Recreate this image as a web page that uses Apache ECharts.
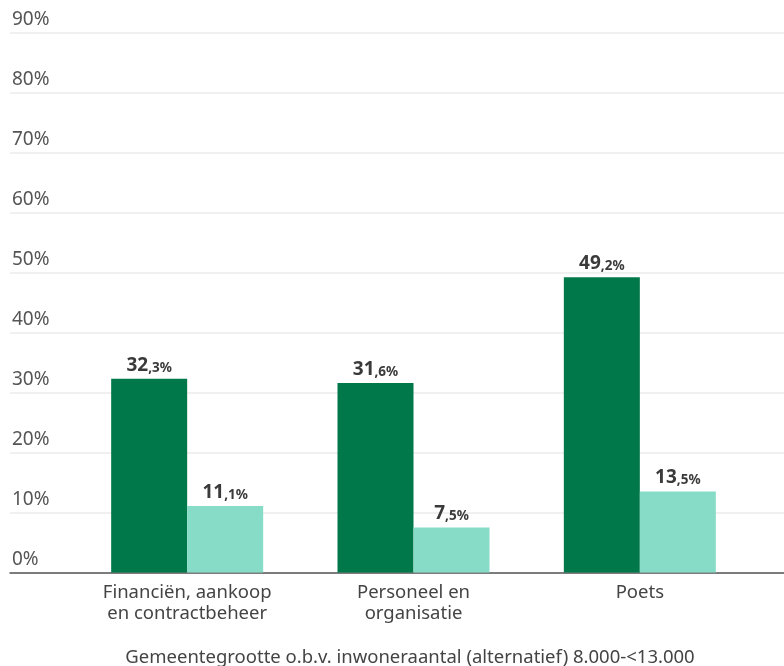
<!DOCTYPE html>
<html><head><meta charset="utf-8">
<script src="https://cdn.jsdelivr.net/npm/echarts@6/dist/echarts.min.js"></script>
<style>html,body{margin:0;padding:0;background:#fff}#c{width:784px;height:666px}</style>
</head><body><div id="c"></div>
<script>
var categories = ['Financiën, aankoop\nen contractbeheer', 'Personeel en\norganisatie', 'Poets'];
var seriesA = [32.3, 31.6, 49.2];
var seriesB = [11.1, 7.5, 13.5];
var yTicks = [0, 10, 20, 30, 40, 50, 60, 70, 80, 90];
var axisTitle = 'Gemeentegrootte o.b.v. inwoneraantal (alternatief) 8.000-<13.000';

var FONT = '"Noto Sans", "Open Sans", sans-serif';
function lbl(p) {
  var s = p.value.toFixed(1).split('.');
  return '{a|' + s[0] + '}{b|,' + s[1] + '%}';
}
var labelCfg = {
  show: true, position: 'top', distance: 4, formatter: lbl,
  rich: {
    a: { fontFamily: FONT, fontSize: 19, fontWeight: 'bold', color: '#3a3a3a', verticalAlign: 'bottom', lineHeight: 21 },
    b: { fontFamily: FONT, fontSize: 13.5, fontWeight: 'bold', color: '#3a3a3a', verticalAlign: 'bottom', lineHeight: 18 }
  }
};
var chart = echarts.init(document.getElementById('c'));
chart.setOption({
  animation: false,
  title: { text: axisTitle, left: 405, top: 643, textAlign: 'center',
    textStyle: { fontFamily: FONT, fontSize: 18.5, fontWeight: 'normal', color: '#444' } },
  grid: [
    { left: 10, right: 0, top: 32.5, bottom: 93.5 },
    { left: 74, right: 31, top: 32.5, bottom: 93.5 }
  ],
  xAxis: [
    { gridIndex: 0, type: 'category', data: ['x'], axisLine: { lineStyle: { color: '#555', width: 1.5 } },
      axisTick: { show: false }, axisLabel: { show: false } },
    { gridIndex: 1, type: 'category', data: categories, axisLine: { show: false }, axisTick: { show: false },
      axisLabel: { margin: 10, fontFamily: FONT, fontSize: 18.5, color: '#444', lineHeight: 21 } }
  ],
  yAxis: [
    { gridIndex: 0, type: 'value', min: yTicks[0], max: yTicks[yTicks.length - 1], interval: 10,
      axisLine: { show: false }, axisTick: { show: false },
      splitLine: { lineStyle: { color: '#ebebeb', width: 1.5 } },
      axisLabel: { inside: true, align: 'left', verticalAlign: 'bottom', margin: 2, padding: [0, 0, 3, 0],
        fontFamily: FONT, fontSize: 19, color: '#555', formatter: '{value}%' } },
    { gridIndex: 1, type: 'value', min: yTicks[0], max: yTicks[yTicks.length - 1], interval: 10, show: false }
  ],
  series: [
    { type: 'bar', xAxisIndex: 1, yAxisIndex: 1, data: seriesA, barWidth: 76, barGap: '0%',
      itemStyle: { color: '#00784A' }, label: labelCfg },
    { type: 'bar', xAxisIndex: 1, yAxisIndex: 1, data: seriesB, barWidth: 76, barGap: '0%',
      itemStyle: { color: '#86DCC6' }, label: labelCfg }
  ]
});
</script></body></html>
